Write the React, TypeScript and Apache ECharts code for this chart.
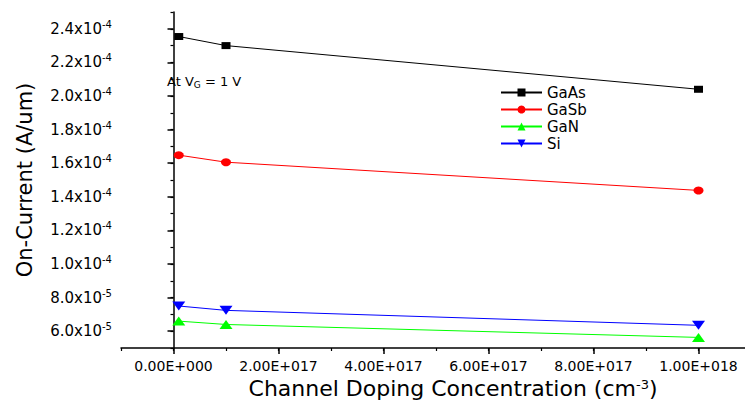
import React, { useEffect, useRef } from "react";
import * as echarts from "echarts";

const doping = [1e16, 1e17, 1e18];
const gaas = [2.354e-4, 2.3e-4, 2.04e-4];
const gasb = [1.648e-4, 1.606e-4, 1.438e-4];
const gan = [6.6e-5, 6.4e-5, 5.63e-5];
const si = [7.5e-5, 7.24e-5, 6.35e-5];

const xTicks = [0, 2e17, 4e17, 6e17, 8e17, 1e18];
const yTicks = [6e-5, 8e-5, 1e-4, 1.2e-4, 1.4e-4, 1.6e-4, 1.8e-4, 2.0e-4, 2.2e-4, 2.4e-4];

const FONT = "'DejaVu Sans', 'Liberation Sans', Arial, sans-serif";

function fmtX(v: number): string {
  if (Math.abs(v) < 1) return "0.00E+000";
  const e = Math.floor(Math.log10(v) + 1e-9);
  const m = v / Math.pow(10, e);
  return m.toFixed(2) + "E+" + String(e).padStart(3, "0");
}

function fmtY(v: number): string {
  const e = Math.floor(Math.log10(v) + 1e-9);
  const m = v / Math.pow(10, e);
  return m.toFixed(1) + "x10{sup|" + e + "}";
}

function pairs(ys: number[]) {
  return doping.map((x, i) => [x, ys[i]]);
}

export default function App() {
  const ref = useRef<HTMLDivElement>(null);
  useEffect(() => {
    if (!ref.current) return;
    document.body.style.margin = "0";
    const chart = echarts.init(ref.current, null, { renderer: "svg", width: 745, height: 403 });
    const axisLine = { show: true, lineStyle: { color: "#000", width: 1.5 } };
    const series = [
      { name: "GaAs", color: "#000000", symbol: "rect", size: [9, 7], data: gaas },
      { name: "GaSb", color: "#ff0000", symbol: "circle", size: [10, 8], data: gasb },
      { name: "GaN", color: "#00ff00", symbol: "triangle", size: [13, 9], data: gan },
      { name: "Si", color: "#0000ff", symbol: "path://M0,0 L10,0 L5,9 Z", size: [13, 9], data: si },
    ].map((s) => ({
      name: s.name,
      type: "line",
      data: pairs(s.data),
      symbol: s.symbol,
      symbolSize: s.size,
      itemStyle: { color: s.color },
      lineStyle: { color: s.color, width: 1 },
      xAxisIndex: 0,
      yAxisIndex: 0,
    }));
    chart.setOption({
      animation: false,
      backgroundColor: "#fff",
      textStyle: { fontFamily: FONT },
      grid: { left: 121, width: 630, top: 12, height: 336, containLabel: false, outerBoundsMode: "none" },
      legend: {
        orient: "vertical",
        left: 500,
        top: 85,
        padding: 0,
        itemWidth: 41,
        itemHeight: 10,
        itemGap: 2,
        textStyle: { fontFamily: FONT, fontSize: 15, color: "#000" },
        data: ["GaAs", "GaSb", "GaN", "Si"],
      },
      xAxis: [
        {
          type: "value",
          min: -1e17,
          max: 1.1e18,
          interval: 1e17,
          axisLine,
          splitLine: { show: false },
          axisTick: { show: true, inside: false, length: 6, lineStyle: { width: 1.5, color: "#000" }, customValues: xTicks },
          axisLabel: {
            customValues: xTicks,
            formatter: (v: number) => fmtX(v),
            fontSize: 14,
            color: "#000",
            margin: 11,
            fontFamily: FONT,
          },
          name: "Channel Doping Concentration (cm{sup|-3})",
          nameLocation: "middle",
          nameGap: 28,
          nameTextStyle: {
            fontSize: 22,
            lineHeight: 22,
            color: "#000",
            fontFamily: FONT,
            padding: [0, 0, 0, 34],
            rich: { sup: { fontSize: 13, lineHeight: 20, verticalAlign: "top", padding: [0, 0, 7, 0], fontFamily: FONT, color: "#000" } },
          },
        },
        {
          type: "value",
          min: -1e17,
          max: 1.1e18,
          interval: 1e17,
          position: "bottom",
          axisLine: { show: false },
          splitLine: { show: false },
          axisTick: { show: true, inside: false, length: 3, lineStyle: { width: 1.2, color: "#000" } },
          axisLabel: { show: false },
        },
      ],
      yAxis: [
        {
          type: "value",
          min: 5e-5,
          max: 2.5e-4,
          interval: 1e-5,
          axisLine,
          splitLine: { show: false },
          axisTick: { show: true, inside: false, length: 6, lineStyle: { width: 1.5, color: "#000" }, customValues: yTicks },
          axisLabel: {
            customValues: yTicks,
            formatter: (v: number) => fmtY(v),
            fontSize: 15,
            color: "#000",
            margin: 9,
            fontFamily: FONT,
            rich: { sup: { fontSize: 10, verticalAlign: "top", padding: [0, 0, 9, 0], fontFamily: FONT, color: "#000" } },
          },
          name: "On-Current (A/um)",
          nameLocation: "middle",
          nameGap: 86,
          nameTextStyle: { fontSize: 21, color: "#000", fontFamily: FONT },
        },
        {
          type: "value",
          min: 5e-5,
          max: 2.5e-4,
          interval: 1e-5,
          position: "left",
          axisLine: { show: false },
          splitLine: { show: false },
          axisTick: { show: true, inside: false, length: 3, lineStyle: { width: 1.2, color: "#000" } },
          axisLabel: { show: false },
        },
      ],
      graphic: [
        {
          type: "text",
          left: 167,
          top: 75,
          style: {
            text: "At V{sub|G} = 1 V",
            fontSize: 13,
            fontFamily: FONT,
            fill: "#000",
            rich: { sub: { fontSize: 9, padding: [6, 0, 0, 0], fontFamily: FONT, fill: "#000" } },
          },
        },
      ],
      series,
    });
    return () => chart.dispose();
  }, []);
  return (
    <div
      ref={ref}
      style={{ position: "fixed", left: 0, top: 0, width: 745, height: 403, overflow: "hidden" }}
    />
  );
}
